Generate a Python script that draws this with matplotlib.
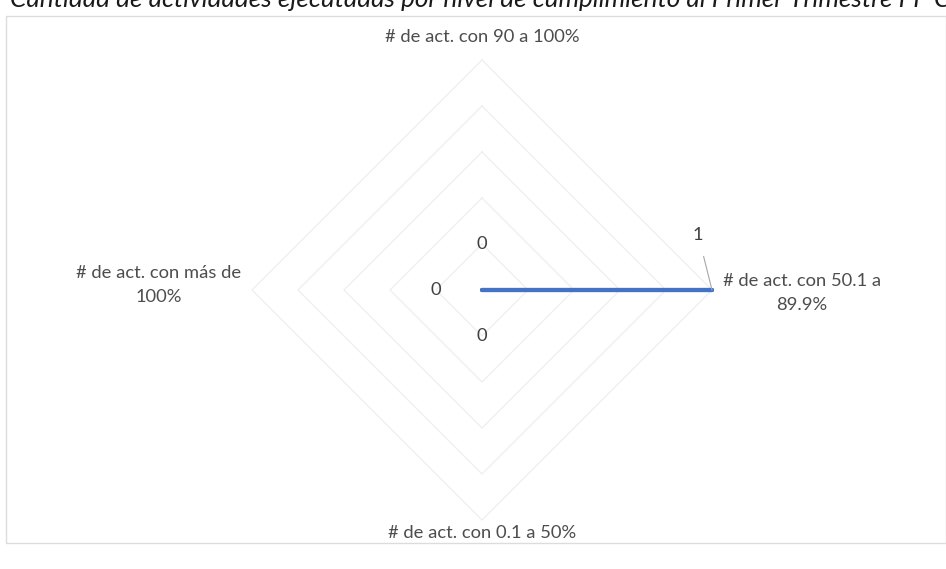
import numpy as np
import matplotlib.pyplot as plt
from matplotlib.patches import Rectangle

plt.rcParams['font.family'] = ['Lato', 'DejaVu Sans']

# %% Data
categories = ["# de act. con 90 a 100%", "# de act. con 50.1 a\n89.9%",
              "# de act. con 0.1 a 50%", "# de act. con más de\n100%"]
values = [0, 1, 0, 0]
rings = [0.2, 0.4, 0.6, 0.8, 1.0]
title = "Cantidad de actividades ejecutadas por nivel de cumplimiento al Primer Trimestre PP C"

# angles: first category at top, then clockwise
angles = np.pi / 2 - np.arange(len(categories)) * 2 * np.pi / len(categories)

# %% Plot
W, H = 946, 569
cx, cy, R = 482, 290, 230
fig = plt.figure(figsize=(W / 100, H / 100), dpi=100)
ax = fig.add_axes([0, 0, 1, 1])
ax.set_xlim(-cx / R, (W - cx) / R)
ax.set_ylim(-(H - cy) / R, cy / R)
ax.set_aspect('equal')
ax.axis('off')

# chart area border
fig.patches.append(Rectangle((6 / W, 1 - 543 / H), 940 / W, 527 / H, transform=fig.transFigure,
                             fill=False, edgecolor='#dcdcdc', lw=1))

# diamond gridlines
for r in rings:
    xs = np.append(r * np.cos(angles), r * np.cos(angles[0]))
    ys = np.append(r * np.sin(angles), r * np.sin(angles[0]))
    ax.plot(xs, ys, color='#efefef', lw=1, zorder=1)

# series
vx = np.array(values) * np.cos(angles)
vy = np.array(values) * np.sin(angles)
ax.plot(np.append(vx, vx[0]), np.append(vy, vy[0]), color='#4472C4', lw=3,
        solid_capstyle='round', zorder=3)

# category labels
lab_r = [1.10, 1.39, 1.057, 1.405]
lab_dy = [0, -0.012, 0, 0.022]
for cat, a, lr, dy in zip(categories, angles, lab_r, lab_dy):
    ax.text(lr * np.cos(a), lr * np.sin(a) + dy, cat, ha='center', va='center',
            fontsize=13.2, color='#4d4d4d', linespacing=1.65)

# data labels
for v, a in zip(values, angles):
    if v == 0:
        ax.text(0.2 * np.cos(a), 0.2 * np.sin(a), str(v), ha='center', va='center',
                fontsize=13.2, color='#404040')
    else:
        px, py = v * np.cos(a), v * np.sin(a)
        ax.annotate(str(v), xy=(px, py), xytext=(px - 0.06, py + 0.24),
                    ha='center', va='center', fontsize=13.2, color='#404040',
                    arrowprops=dict(arrowstyle='-', color='#a6a6a6', lw=0.8,
                                    shrinkA=8, shrinkB=0))

# clipped title at the top edge
fig.text(10 / W, 1 - 7 / H, title, ha='left', va='baseline', fontsize=18.8,
         style='italic', color='#1a1a1a')

plt.savefig("out.png", dpi=100)
